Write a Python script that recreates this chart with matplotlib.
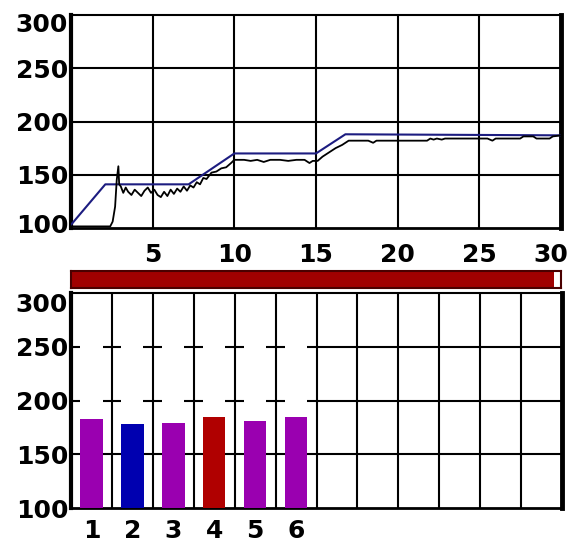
import numpy as np
import matplotlib
matplotlib.use("Agg")
import matplotlib.pyplot as plt
import matplotlib.transforms as mtransforms

# данные верхнего графика (температура во времени)
set_x = [0, 2.1, 7.2, 10.0, 15.0, 16.8, 30]
set_y = [103, 141, 141, 170, 170, 188, 187]

meas_x = [0, 2.4, 2.55, 2.7, 2.8, 2.9, 2.95, 3.05, 3.2, 3.35, 3.5, 3.7, 3.9, 4.1,
          4.3, 4.5, 4.7, 4.9, 5.1, 5.3, 5.5, 5.7, 5.9, 6.1, 6.3, 6.5, 6.7, 6.9,
          7.1, 7.3, 7.5, 7.7, 7.9, 8.1, 8.3, 8.6, 8.9, 9.2, 9.5, 9.8, 10.0,
          10.6, 11.0, 11.4, 11.8, 12.2, 12.8, 13.3, 13.8, 14.3, 14.6, 14.8,
          15.1, 15.4, 15.8, 16.2, 16.6, 17.0, 18.2, 18.5, 18.7, 21.8, 22.0,
          22.2, 22.4, 22.7, 22.9, 25.5, 25.8, 26.0, 27.5, 27.7, 28.3, 28.5,
          29.3, 29.5, 30]
meas_y = [101.5, 101.5, 106, 120, 145, 158, 141, 139, 133, 138, 134, 131, 136, 133,
          130, 135, 138, 133, 136, 131, 129, 134, 130, 136, 132, 137, 134, 139,
          135, 140, 138, 143, 141, 147, 146, 152, 153, 156, 157, 161, 164,
          164, 163, 164, 162, 164, 164, 163, 164, 164, 161, 163,
          163, 167, 171, 175, 178, 182, 182, 180, 182, 182, 184,
          183, 184, 183, 184, 184, 182, 184, 184, 186, 186, 184,
          184, 186, 187]

progress = 29.6  # из 30

# данные нижнего графика (столбцы)
bar_labels = ["1", "2", "3", "4", "5", "6"]
bar_values = [183, 178, 179, 185, 181, 185]
bar_colors = ["#9a00b0", "#0000b0", "#9a00b0", "#b00000", "#9a00b0", "#9a00b0"]

FONT = dict(family="DejaVu Sans", weight="bold", size=18)
GRID = dict(color="black", lw=1.5, zorder=1)

fig = plt.figure(figsize=(5.74, 5.42), dpi=100)
W, H = 574, 542


def box(x0, y0, x1, y1):
    # пиксели (сверху вниз) -> доли фигуры
    return [x0 / W, 1 - y1 / H, (x1 - x0) / W, (y1 - y0) / H]


def style_frame(ax):
    for side, lw in (("left", 3), ("right", 3.5), ("top", 1.5), ("bottom", 2)):
        ax.spines[side].set_linewidth(lw)
        ax.spines[side].set_color("black")
    ax.tick_params(length=0)


def shift(label, dx, dy):
    off = mtransforms.ScaledTranslation(dx / 100, dy / 100, fig.dpi_scale_trans)
    label.set_transform(label.get_transform() + off)


# верхний график
ax1 = fig.add_axes(box(71, 15, 561, 228))
ax1.set_xlim(0, 30)
ax1.set_ylim(100, 300)
for x in range(5, 30, 5):
    ax1.axvline(x, **GRID)
for y in (150, 200, 250):
    ax1.axhline(y, **GRID)
ax1.plot(set_x, set_y, color="#1c1c80", lw=1.5, zorder=3)
ax1.plot(meas_x, meas_y, color="black", lw=1.3, zorder=4, clip_on=False)
ax1.set_xticks([5, 10, 15, 20, 25, 30])
ax1.set_yticks([100, 150, 200, 250, 300])
ax1.set_xticklabels([str(v) for v in [5, 10, 15, 20, 25, 30]], **FONT)
ax1.set_yticklabels([str(v) for v in [100, 150, 200, 250, 300]], **FONT)
ax1.tick_params(axis="x", pad=11)
ax1.tick_params(axis="y", pad=2)
style_frame(ax1)
shift(ax1.get_xticklabels()[-1], -10, 0)
shift(ax1.get_yticklabels()[0], 0, 5)
shift(ax1.get_yticklabels()[-1], 0, -7)

# полоса прогресса
axp = fig.add_axes(box(71, 271, 561, 288))
axp.set_xlim(0, 30)
axp.set_ylim(0, 1)
axp.barh(0.5, progress, height=1, color="#a00000", edgecolor="none")
axp.set_xticks([])
axp.set_yticks([])
for s in axp.spines.values():
    s.set_color("#4a0000")
    s.set_linewidth(1.5)

# нижний график
ax2 = fig.add_axes(box(71, 293, 562, 508))
ax2.set_xlim(0, 12)
ax2.set_ylim(100, 300)
for x in range(1, 12):
    ax2.axvline(x, **GRID)
ax2.axhline(150, **GRID)
for y in (200, 250):
    ax2.hlines(y, 5.77, 12, **GRID)
    for i in range(6):
        ax2.hlines(y, max(i - 0.23, 0), i + 0.23, **GRID)
pos = np.arange(len(bar_values)) + 0.5
ax2.bar(pos, bar_values, width=0.55, color=bar_colors, zorder=3)
ax2.set_xticks(pos)
ax2.set_xticklabels(bar_labels, **FONT)
ax2.set_yticks([100, 150, 200, 250, 300])
ax2.set_yticklabels([str(v) for v in [100, 150, 200, 250, 300]], **FONT)
ax2.tick_params(axis="x", pad=8)
ax2.tick_params(axis="y", pad=2)
style_frame(ax2)
shift(ax2.get_yticklabels()[-1], 0, -10)

fig.savefig("out.png", dpi=100)
